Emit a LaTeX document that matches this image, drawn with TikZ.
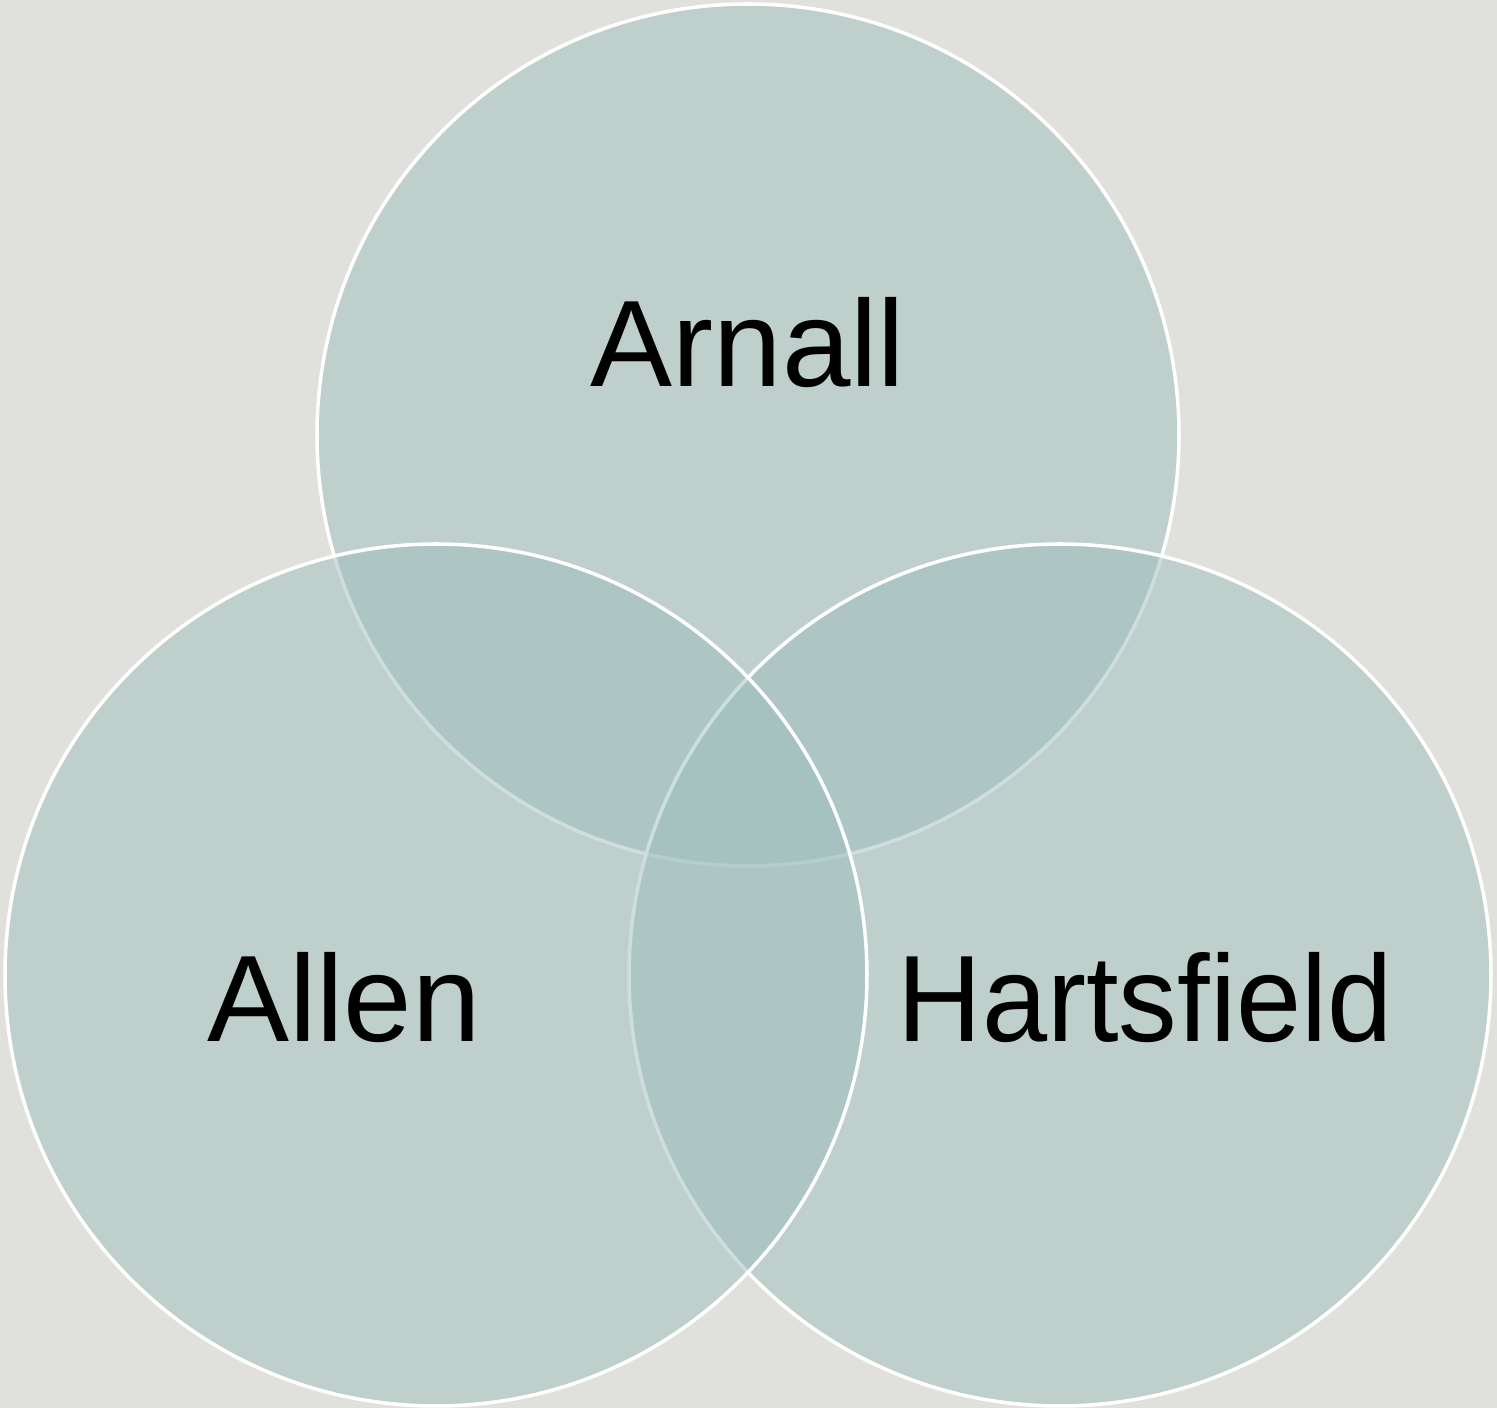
\documentclass[tikz,border=0pt]{standalone}
\usepackage{fontspec}
\setmainfont{Liberation Sans}
\usepackage{xcolor}
\usepackage{tikz}
\usetikzlibrary{positioning}

\definecolor{paper}{RGB}{224,225,220}
\definecolor{setfill}{RGB}{158,191,190}

\begin{document}
\begin{tikzpicture}[
  set/.style={circle, draw=white, line width=1pt, fill=setfill,
              fill opacity=0.5, minimum size=8.62cm, inner sep=0pt},
  setname/.style={anchor=base, text=black, font=\fontsize{35}{42}\selectfont}]
  \fill[paper] (0,0) rectangle (14.97,14.08);
  \useasboundingbox (0,0) rectangle (14.97,14.08);
  % the three circles, top first so the lower ones lie over it
  \node[set] (arnallset)     at (7.48,9.73)  {};
  \node[set] (hartsfieldset) at (10.60,4.33) {};
  \node[set] (allenset)      at (4.36,4.33)  {};
  % names
  \node[setname] (arnall)     at (7.48,10.21) {Arnall};
  \node[setname] (allen)      at (3.44,3.66)  {Allen};
  \node[setname] (hartsfield) at (11.45,3.66) {\scalebox{0.952}[1]{Hartsfield}};
\end{tikzpicture}
\end{document}
